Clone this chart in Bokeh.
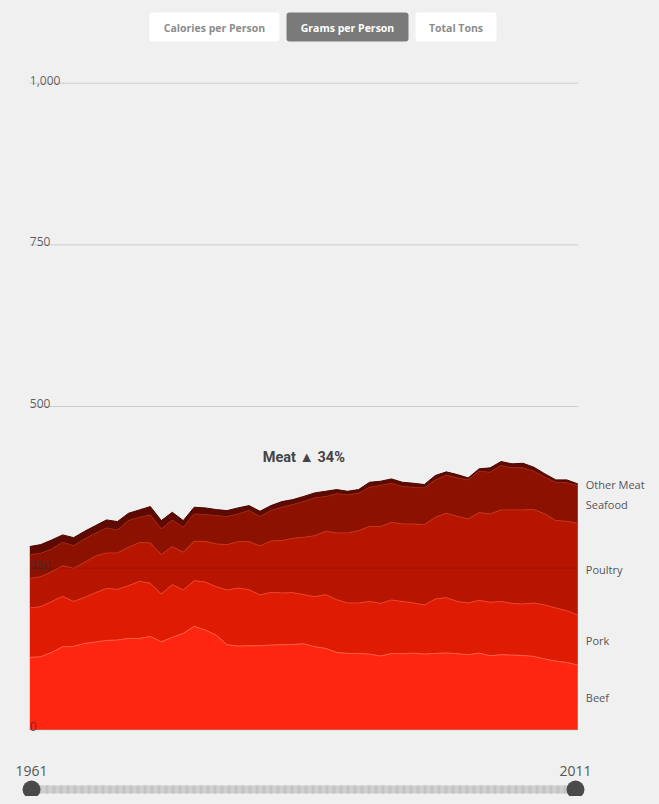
import numpy as np
from bokeh.plotting import figure
from bokeh.models import ColumnDataSource, Range1d, BoxAnnotation
from bokeh.core.properties import value
from bokeh.embed import file_html
from bokeh.resources import INLINE

# ---------------- data ----------------
years = list(range(1961, 2012))
beef = [112.0, 113.0, 119.7, 128.5, 129.0, 133.6, 135.8, 138.2, 138.9, 141.3,
        141.3, 144.4, 136.2, 142.9, 149.1, 160.0, 154.3, 146.6, 131.6, 129.5,
        130.0, 130.0, 131.1, 131.6, 132.1, 133.0, 128.5, 125.9, 119.7, 118.1,
        118.1, 117.1, 114.0, 118.1, 117.6, 118.6, 117.1, 118.1, 118.9, 117.6,
        116.1, 118.6, 114.6, 116.1, 115.6, 115.0, 113.5, 109.4, 106.3, 104.2, 100.1]
pork = [76.5, 77.4, 78.9, 77.8, 69.6, 71.2, 76.3, 80.5, 78.3, 81.6,
        88.3, 82.1, 73.9, 81.6, 67.1, 70.7, 74.3, 74.8, 84.6, 89.8,
        86.7, 78.5, 81.5, 80.0, 80.0, 76.0, 77.4, 83.1, 81.5, 78.0,
        78.0, 81.5, 81.5, 82.6, 81.0, 77.5, 75.9, 84.2, 85.4, 81.0,
        80.0, 81.6, 82.5, 82.5, 79.9, 79.5, 82.6, 83.6, 82.1, 80.0, 77.4]
poultry = [45.8, 46.4, 46.0, 47.6, 51.1, 54.2, 56.8, 54.8, 56.3, 59.3,
           59.9, 62.5, 60.8, 58.8, 58.3, 60.8, 62.9, 66.1, 70.2, 71.7,
           74.3, 75.9, 79.5, 81.0, 84.1, 88.7, 94.4, 98.0, 103.3, 108.4,
           111.9, 116.1, 118.7, 120.2, 119.8, 122.3, 124.3, 126.3, 130.5, 131.6,
           130.0, 135.7, 136.8, 141.5, 144.6, 145.6, 144.5, 140.9, 135.1, 138.2, 141.8]
seafood = [36.7, 36.2, 35.1, 36.1, 35.1, 36.2, 35.0, 38.7, 35.6, 41.3,
           39.1, 43.3, 39.8, 41.3, 38.7, 42.4, 41.3, 43.8, 43.3, 42.9,
           48.0, 45.3, 46.9, 51.6, 52.1, 55.3, 58.4, 53.7, 60.4, 58.8,
           57.8, 60.4, 63.5, 60.4, 57.8, 56.7, 56.8, 57.9, 59.0, 59.4,
           60.4, 64.0, 64.4, 68.6, 65.0, 65.0, 59.3, 56.7, 59.3, 59.5, 58.4]
other_meat = [12.4, 13.4, 13.9, 11.4, 12.4, 11.8, 11.9, 12.4, 12.9, 11.3,
              11.5, 12.9, 12.8, 11.8, 10.3, 10.3, 10.4, 9.3, 9.3, 9.3,
              7.7, 8.3, 7.7, 8.7, 7.7, 8.0, 7.7, 8.2, 6.6, 5.6,
              5.7, 7.7, 6.7, 6.7, 6.6, 6.2, 5.2, 6.7, 5.1, 5.1,
              3.1, 3.7, 6.8, 6.2, 6.2, 7.1, 6.1, 5.2, 3.7, 4.6, 2.6]
series_names = ["Beef", "Pork", "Poultry", "Seafood", "Other Meat"]
y_ticks = [0, 250, 500, 750, 1000]
y_tick_labels = ["0", "250", "500", "750", "1,000"]
buttons = ["Calories per Person", "Grams per Person", "Total Tons"]
selected_button = "Grams per Person"
headline_label = "Meat"

# ---------------- styling / layout ----------------
BG = "#f0f0f0"
fill_colors = ["#fe2611", "#df1b03", "#b71500", "#8c1100", "#5e0a00"]
edge_colors = ["#ff5a44", "#ec4028", "#c5301a", "#9e2212", "#4a0600"]
FONT = value("Open Sans")

W, H, MARGIN = 643, 788, 8
X_PX0, PX_YEAR = 29.3, 10.96      # page pixel of first year, pixels per year
Y_PX0, PX_UNIT = 729.3, 0.6466    # page pixel of value 0, pixels per gram


def xd(px):
    return years[0] + (px - X_PX0) / PX_YEAR


def yd(py):
    return (Y_PX0 - py) / PX_UNIT


p = figure(width=W, height=H, output_backend="svg", toolbar_location=None,
           x_range=Range1d(xd(MARGIN), xd(MARGIN + W)),
           y_range=Range1d(yd(MARGIN + H), yd(MARGIN)),
           x_axis_type=None, y_axis_type=None, min_border=0,
           background_fill_color=BG, border_fill_color=BG,
           outline_line_color=None)

src = ColumnDataSource({"year": years, "Beef": beef, "Pork": pork,
                        "Poultry": poultry, "Seafood": seafood,
                        "Other Meat": other_meat})
p.varea_stack(stackers=series_names, x="year", color=fill_colors, source=src)
p.vline_stack(stackers=series_names, x="year", line_color=edge_colors,
              line_width=1, source=src)

# grid lines (drawn above areas)
p.segment(x0=years[0], x1=years[-1], y0=y_ticks, y1=y_ticks,
          line_color="black", line_alpha=0.15, line_width=1)
p.text(x=[years[0]] * len(y_ticks), y=y_ticks, text=y_tick_labels,
       text_font=FONT, text_font_size="12px", text_color="#333333",
       text_alpha=0.78, text_align="left", text_baseline="alphabetic",
       y_offset=-3)

# series labels at right, at the middle of each layer in the last year
stack = np.cumsum([[s[-1] for s in (beef, pork, poultry, seafood, other_meat)]])
lows = np.concatenate([[0], stack[:-1]])
mids = list((stack + lows) / 2)
p.text(x=[years[-1]] * len(series_names), y=mids, text=series_names,
       text_font=FONT, text_font_size="11px", text_color="#555555",
       text_align="left", text_baseline="middle", x_offset=8)

# headline change label
totals = np.sum([beef, pork, poultry, seafood, other_meat], axis=0)
pct = round((totals[-1] / totals[0] - 1) * 100)
arrow = "\u25B2" if pct >= 0 else "\u25BC"
p.text(x=[(years[0] + years[-1]) / 2], y=[yd(457)],
       text=[f"{headline_label} {arrow} {abs(pct)}%"],
       text_font=value("Roboto"), text_font_size="14.5px",
       text_font_style="bold", text_color="#444444",
       text_align="center", text_baseline="middle")

# toggle buttons
btn_px = [(149, 279), (286, 408), (415, 496)]
for (l, r), name in zip(btn_px, buttons):
    sel = name == selected_button
    p.add_layout(BoxAnnotation(left=xd(l), right=xd(r), top=yd(12), bottom=yd(41),
                               fill_color="#7a7a7a" if sel else "white",
                               fill_alpha=1.0, line_color=None,
                               border_radius=3, level="underlay"))
    p.text(x=[xd((l + r) / 2)], y=[yd(27)], text=[name], text_font=FONT,
           text_font_size="10.5px", text_font_style="bold",
           text_color="white" if sel else "#8c8c8c",
           text_align="center", text_baseline="middle")

# year range slider
sx0, sx1, sy = xd(31), xd(575), yd(789)
p.segment(x0=[sx0], x1=[sx1], y0=[sy], y1=[sy], line_color="#cfcfcf",
          line_width=8)
p.segment(x0=[sx0], x1=[sx1], y0=[sy], y1=[sy], line_color="#c3c3c3",
          line_width=8, line_dash="3 4")
p.scatter(x=[sx0, sx1], y=[sy, sy], size=18, marker="circle",
          fill_color="#4a4a4a", line_color=None)
p.text(x=[sx0, sx1], y=[yd(770), yd(770)], text=[str(years[0]), str(years[-1])],
       text_font=FONT, text_font_size="14px", text_color="#555555",
       text_align="center", text_baseline="middle")

html = file_html(p, INLINE)
html = html.replace(
    "</head>",
    "<style>html,body{background:%s;} body{margin:%dpx !important;}</style></head>" % (BG, MARGIN),
    1)
open("out.html", "w").write(html)
